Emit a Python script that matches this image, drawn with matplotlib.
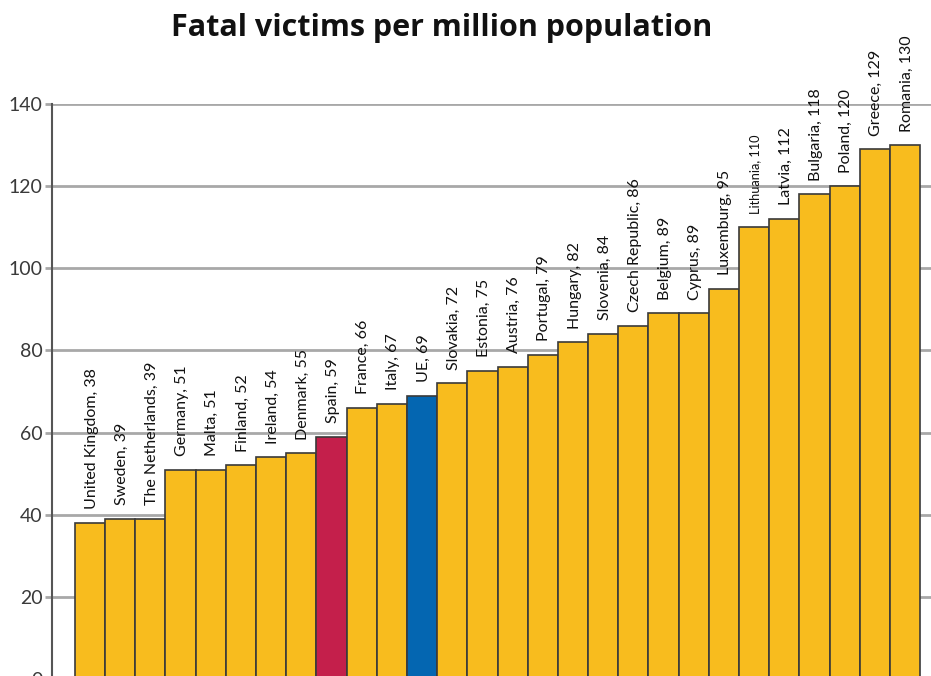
import matplotlib.pyplot as plt

# fatal road victims per million inhabitants, sorted ascending
countries = ['United Kingdom', 'Sweden', 'The Netherlands', 'Germany', 'Malta',
             'Finland', 'Ireland', 'Denmark', 'Spain', 'France', 'Italy', 'UE',
             'Slovakia', 'Estonia', 'Austria', 'Portugal', 'Hungary', 'Slovenia',
             'Czech Republic', 'Belgium', 'Cyprus', 'Luxemburg', 'Lithuania',
             'Latvia', 'Bulgaria', 'Poland', 'Greece', 'Romania']
victims = [38, 39, 39, 51, 51, 52, 54, 55, 59, 66, 67, 69, 72, 75, 76, 79, 82,
           84, 86, 89, 89, 95, 110, 112, 118, 120, 129, 130]
y_ticks = [0, 20, 40, 60, 80, 100, 120, 140]

yellow = '#F8BC1E'
colors = [yellow] * len(countries)
colors[countries.index('Spain')] = '#C41F4B'
colors[countries.index('UE')] = '#0466B1'

W, H = 931, 676
fig = plt.figure(figsize=(W / 100, H / 100), dpi=100)
ax = fig.add_axes([52 / W, -3 / H, 879 / W, (679 - 104) / H])

x = list(range(len(countries)))
ax.bar(x, victims, width=1.0, color=colors, edgecolor='#3a3a3a', linewidth=1.2, zorder=2)

for i, (name, v) in enumerate(zip(countries, victims)):
    fs = 9.2 if name == 'Lithuania' else 11.5
    ax.text(i + 0.05, v + 3.3, f'{name}, {v}', rotation=90, ha='center', va='bottom',
            fontsize=fs, family='Lato', color='#111111', clip_on=False, zorder=3)

ax.set_xlim(-1.26, 27.86)
ax.set_ylim(0, 140)
ax.set_xticks([])
ax.set_yticks(y_ticks)
ax.set_yticklabels([str(t) for t in y_ticks], family='Lato', fontsize=14, color='#3a3a3a')
ax.yaxis.grid(True, color='#a8a8a8', linewidth=2)
ax.set_axisbelow(True)
ax.tick_params(axis='y', length=5, width=2, color='#a8a8a8', pad=2)

for s in ['top', 'right', 'bottom']:
    ax.spines[s].set_visible(False)
ax.spines['left'].set_color('#555555')
ax.spines['left'].set_linewidth(1.5)

fig.text(442 / W, 1 - 28 / H, 'Fatal victims per million population', ha='center', va='center',
         fontsize=22, fontweight='bold', family='Open Sans', color='#111111')

fig.savefig('out.png', dpi=100)
